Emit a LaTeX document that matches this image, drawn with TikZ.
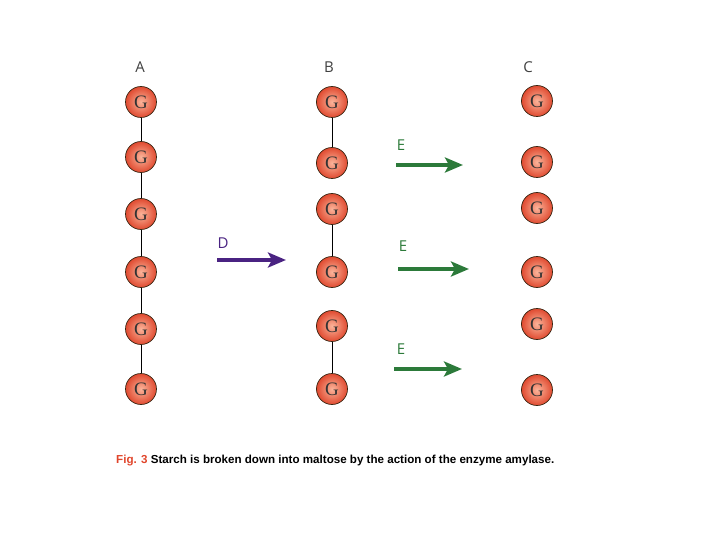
\documentclass[tikz,border=0pt]{standalone}
\usepackage{fontspec}
\usetikzlibrary{arrows.meta}
\setmainfont{Liberation Serif}
\newfontfamily\labfont{Open Sans}
\newfontfamily\capfont{Liberation Sans}
\definecolor{dpurple}{HTML}{4A2382}
\definecolor{dgreen}{HTML}{2C7A3A}
\definecolor{figred}{HTML}{E0452B}
\definecolor{ballin}{HTML}{FBB49A}
\definecolor{ballout}{HTML}{E04A30}
\begin{document}
\begin{tikzpicture}[x=1pt,y=-1pt,
  glu/.style={circle,minimum size=31pt,inner sep=0pt,draw=black!70!brown,line width=0.7pt,
    shading=radial,inner color=ballin,outer color=ballout,font=\fontsize{19}{19}\selectfont,text=black!80},
  bond/.style={draw=black,line width=0.8pt},
  collab/.style={font=\labfont\fontsize{15}{15}\selectfont,text=black!75},
  enzlab/.style={font=\labfont\fontsize{15}{15}\selectfont},
  darrow/.style={line width=4.5pt,-{Stealth[length=18pt,width=15pt,inset=4pt]},draw=dpurple},
  earrow/.style={line width=4.5pt,-{Stealth[length=18pt,width=15pt,inset=4pt]},draw=dgreen}]
\useasboundingbox (0,0) rectangle (720,540);
% labels
\node[collab] (la) at (140,67) {A};
\node[collab] (lb) at (329,67) {B};
\node[collab] (lc) at (528,67) {C};
% column A
\foreach \i/\y in {1/102,2/157,3/214,4/272,5/329,6/389}{
  \node[glu] (a\i) at (141,\y) {G};
}
\foreach \i/\j in {1/2,2/3,3/4,4/5,5/6}{ \draw[bond] (a\i) -- (a\j); }
% column B
\foreach \i/\y in {1/102,2/163,3/209,4/272,5/326,6/389}{
  \node[glu] (b\i) at (332,\y) {G};
}
\draw[bond] (b1) -- (b2);
\draw[bond] (b3) -- (b4);
\draw[bond] (b5) -- (b6);
% column C
\foreach \i/\y in {1/101,2/162,3/208,4/272,5/324,6/390}{
  \node[glu] (c\i) at (537,\y) {G};
}
% arrow D
\node[enzlab,text=dpurple] (d) at (223,243) {D};
\coordinate (d1) at (217,260); \coordinate (d2) at (286,260);
\draw[darrow] (d1) -- (d2);
% arrows E
\node[enzlab,text=dgreen] (e1) at (401,145) {E};
\coordinate (e1s) at (396,165); \coordinate (e1e) at (463,165);
\draw[earrow] (e1s) -- (e1e);
\node[enzlab,text=dgreen] (e2) at (403,246) {E};
\coordinate (e2s) at (398,269); \coordinate (e2e) at (469,269);
\draw[earrow] (e2s) -- (e2e);
\node[enzlab,text=dgreen] (e3) at (401,349) {E};
\coordinate (e3s) at (394,369); \coordinate (e3e) at (462,369);
\draw[earrow] (e3s) -- (e3e);
% caption
\node[anchor=west,inner sep=0pt,font=\capfont\bfseries\fontsize{11.6}{13}\selectfont] (cap) at (116,461)
  {\textcolor{figred}{Fig. 3} Starch is broken down into maltose by the action of the enzyme amylase.};
\end{tikzpicture}
\end{document}
